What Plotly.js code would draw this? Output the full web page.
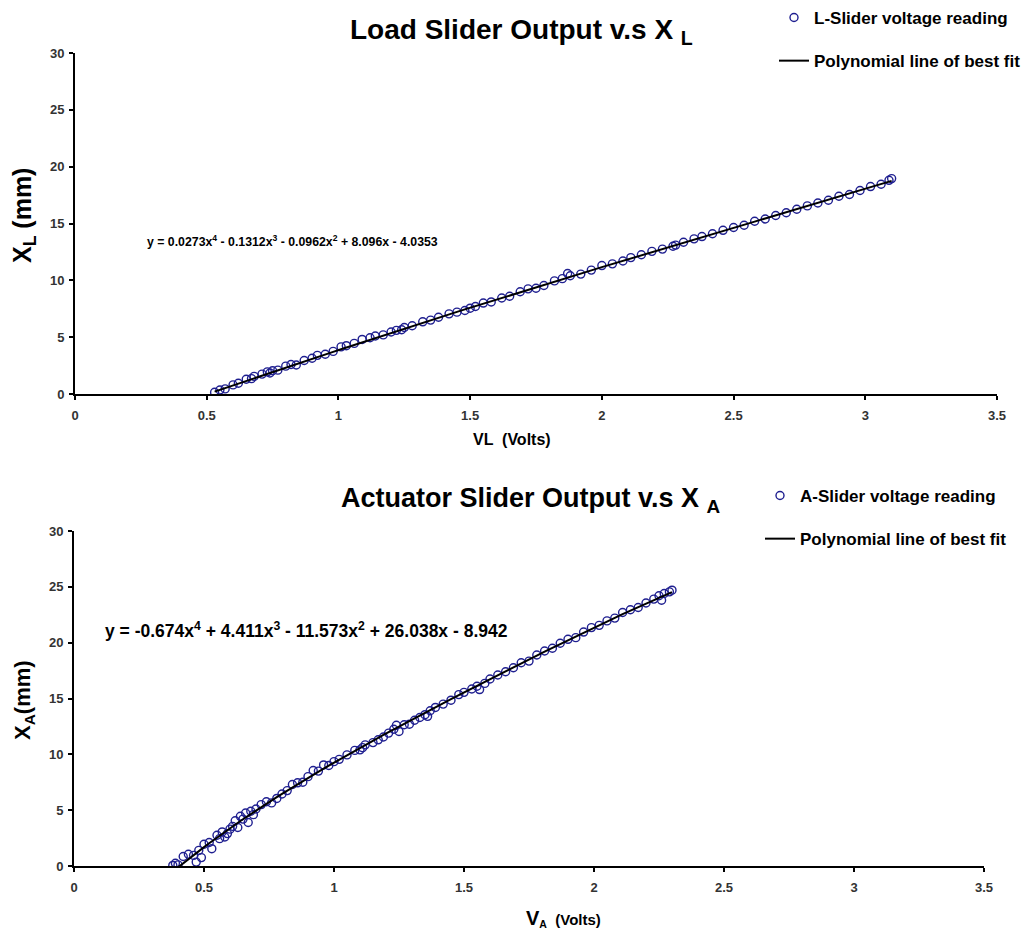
<!DOCTYPE html>
<html>
<head>
<meta charset="utf-8">
<script src="https://cdn.plot.ly/plotly-3.0.1.min.js"></script>
<style>
  html, body { margin: 0; padding: 0; background: #fff; }
  #chart { width: 1031px; height: 939px; }
</style>
</head>
<body>
<div id="chart"></div>
<script>
// Load slider: voltage (V) against displacement X_L (mm)
const loadVolts = [0.53,0.55,0.57,0.60,0.62,0.65,0.67,0.68,0.71,0.73,0.74,0.75,0.77,0.80,0.82,0.84,0.87,0.90,0.92,0.95,0.98,
  1.01,1.03,1.06,1.09,1.12,1.14,1.17,1.20,1.22,1.24,1.25,1.28,1.32,1.35,1.38,1.42,1.45,1.48,1.50,1.52,1.55,1.58,1.62,1.65,
  1.69,1.72,1.75,1.78,1.82,1.85,1.87,1.88,1.92,1.96,2.00,2.04,2.08,2.11,2.15,2.19,2.23,2.27,2.28,2.31,2.35,2.38,2.42,2.46,
  2.50,2.54,2.58,2.62,2.66,2.70,2.74,2.78,2.82,2.86,2.90,2.94,2.98,3.02,3.06,3.09,3.10];
const loadMm = [0.15,0.35,0.45,0.80,0.95,1.30,1.35,1.55,1.75,1.95,1.85,2.05,2.10,2.45,2.60,2.55,2.95,3.15,3.40,3.50,3.75,
  4.15,4.25,4.45,4.80,4.95,5.10,5.20,5.45,5.60,5.65,5.85,6.00,6.35,6.50,6.75,7.05,7.20,7.35,7.55,7.70,8.00,8.10,8.45,8.60,
  9.00,9.25,9.30,9.55,9.95,10.15,10.60,10.40,10.55,10.90,11.30,11.45,11.70,12.00,12.25,12.55,12.75,13.00,13.10,13.35,13.65,13.85,14.10,14.40,
  14.65,14.85,15.20,15.40,15.70,15.95,16.25,16.55,16.80,17.05,17.40,17.55,17.90,18.25,18.45,18.80,18.95];
// Fourth-order fit, highest power first
const loadFit = [0.0273, -0.1312, -0.0962, 8.096, -4.0353];

// Actuator slider: voltage (V) against displacement X_A (mm)
const actVolts = [0.38,0.39,0.40,0.42,0.44,0.46,0.47,0.48,0.49,0.50,0.52,0.53,0.55,0.56,0.57,0.58,0.59,0.60,0.61,0.62,0.63,
  0.64,0.65,0.66,0.67,0.68,0.69,0.70,0.72,0.74,0.76,0.78,0.80,0.82,0.84,0.86,0.88,0.90,0.92,0.94,0.96,0.98,1.00,1.02,1.05,
  1.08,1.10,1.11,1.12,1.15,1.17,1.19,1.21,1.23,1.24,1.25,1.27,1.29,1.31,1.33,1.35,1.36,1.37,1.39,1.42,1.45,1.48,1.50,1.53,
  1.55,1.56,1.58,1.60,1.63,1.66,1.69,1.72,1.75,1.78,1.81,1.84,1.87,1.90,1.93,1.96,1.99,2.02,2.05,2.08,2.11,2.14,2.17,2.20,
  2.23,2.25,2.26,2.27,2.29,2.30];
const actMm = [0.05,0.25,0.10,0.85,1.05,0.95,0.35,1.40,0.75,1.95,2.10,1.55,2.75,2.45,3.05,2.60,2.90,3.30,3.55,4.05,3.45,
  4.45,4.20,4.75,3.90,4.90,4.60,5.10,5.50,5.75,5.65,6.05,6.45,6.75,7.30,7.45,7.50,8.00,8.55,8.50,9.05,9.00,9.35,9.55,9.95,
  10.35,10.40,10.60,10.85,11.05,11.30,11.55,11.90,12.25,12.60,12.05,12.65,12.70,13.05,13.30,13.55,13.40,13.90,14.20,14.50,14.85,15.35,15.55,15.85,
  16.10,15.80,16.35,16.75,17.10,17.40,17.75,18.20,18.35,18.90,19.25,19.50,19.95,20.30,20.45,20.95,21.35,21.55,21.95,22.20,22.70,22.95,23.15,23.55,
  23.90,24.20,23.80,24.40,24.55,24.70];
const actFit = [-0.674, 4.411, -11.573, 26.038, -8.942];

const xTicks = [0, 0.5, 1, 1.5, 2, 2.5, 3, 3.5];
const yTicks = [0, 5, 10, 15, 20, 25, 30];

function polyAt(coeffs, x) {
  return coeffs.reduce((acc, c) => acc * x + c, 0);
}
function fitCurve(coeffs, xs) {
  const sorted = [...xs].sort((a, b) => a - b);
  return { x: sorted, y: sorted.map(v => polyAt(coeffs, v)) };
}

const W = 1031, H = 939;
const px = v => v / W;
const py = v => 1 - v / H;

const FONT = 'Liberation Sans, Arial, sans-serif';
const markerStyle = { symbol: 'circle-open', size: 8, color: '#1f1f90', line: { width: 1.4 } };

const loadLine = fitCurve(loadFit, loadVolts);
const actLine = fitCurve(actFit, actVolts);

const traces = [
  { x: loadVolts, y: loadMm, type: 'scatter', mode: 'markers', name: 'L-Slider voltage reading',
    marker: markerStyle, xaxis: 'x', yaxis: 'y', legend: 'legend', legendgroup: 'a' },
  { x: loadLine.x, y: loadLine.y, type: 'scatter', mode: 'lines', name: 'Polynomial line of best fit',
    line: { color: '#000', width: 2 }, xaxis: 'x', yaxis: 'y', legend: 'legend', legendgroup: 'b' },
  { x: actVolts, y: actMm, type: 'scatter', mode: 'markers', name: 'A-Slider voltage reading',
    marker: markerStyle, xaxis: 'x2', yaxis: 'y2', legend: 'legend2', legendgroup: 'c' },
  { x: actLine.x, y: actLine.y, type: 'scatter', mode: 'lines', name: 'Polynomial line of best fit',
    line: { color: '#000', width: 2 }, xaxis: 'x2', yaxis: 'y2', legend: 'legend2', legendgroup: 'd' }
];

const tickFont = { family: FONT, size: 13, color: '#333', weight: 'bold' };
function xAxis(domain, anchor) {
  return { domain, anchor, range: [0, 3.5], tickvals: xTicks, ticktext: xTicks.map(String),
    showline: true, linecolor: '#000', linewidth: 2, showgrid: false, zeroline: false,
    ticks: 'outside', ticklen: 4, tickwidth: 2, tickcolor: '#000', tickfont: tickFont,
    ticklabelstandoff: 4, fixedrange: true };
}
function yAxis(domain, anchor) {
  return { domain, anchor, range: [0, 30], tickvals: yTicks, ticktext: yTicks.map(String),
    showline: true, linecolor: '#000', linewidth: 2, showgrid: false, zeroline: false,
    ticks: 'outside', ticklen: 4, tickwidth: 2, tickcolor: '#000', tickfont: tickFont,
    ticklabelstandoff: 2, fixedrange: true };
}

const legendFont = { family: FONT, size: 17, color: '#000', weight: 'bold' };

function label(text, x, y, size, opts) {
  return Object.assign({ text, xref: 'paper', yref: 'paper', x: px(x), y: py(y),
    xanchor: 'center', yanchor: 'middle', showarrow: false,
    font: { family: FONT, size, color: '#000', weight: 'bold' } }, opts || {});
}

const layout = {
  width: W, height: H,
  margin: { l: 0, r: 0, t: 0, b: 0 },
  paper_bgcolor: '#fff', plot_bgcolor: '#fff',
  showlegend: true,
  xaxis: xAxis([px(75), px(997)], 'y'),
  yaxis: yAxis([py(394), py(53)], 'x'),
  xaxis2: xAxis([px(74), px(984)], 'y2'),
  yaxis2: yAxis([py(866), py(531)], 'x2'),
  legend: { x: px(774), y: py(0), xanchor: 'left', yanchor: 'top', bgcolor: 'rgba(0,0,0,0)',
    font: legendFont, traceorder: 'grouped', tracegroupgap: 18, itemwidth: 30 },
  legend2: { x: px(760), y: py(478), xanchor: 'left', yanchor: 'top', bgcolor: 'rgba(0,0,0,0)',
    font: legendFont, traceorder: 'grouped', tracegroupgap: 18, itemwidth: 30 },
  annotations: [
    label('Load Slider Output v.s X <sub>L</sub>', 521, 32, 28),
    label('Actuator Slider Output v.s X <sub>A</sub>', 531, 500, 27),
    label('X<sub>L</sub> (mm)', 24, 216, 25, { textangle: -90 }),
    label('X<sub>A</sub>(mm)', 24, 700, 22, { textangle: -90 }),
    label('VL  (Volts)', 512, 440, 16),
    label('<span style="font-size:20px">V</span><sub>A</sub>  (Volts)', 563, 918, 15),
    label('y = 0.0273x<sup>4</sup> - 0.1312x<sup>3</sup> - 0.0962x<sup>2</sup> + 8.096x - 4.0353', 145, 241, 12.3,
      { xanchor: 'left' }),
    label('y = -0.674x<sup>4</sup> + 4.411x<sup>3</sup> - 11.573x<sup>2</sup> + 26.038x - 8.942', 103, 630, 17.5,
      { xanchor: 'left' })
  ]
};

Plotly.newPlot('chart', traces, layout, { displayModeBar: false, staticPlot: true });
</script>
</body>
</html>
